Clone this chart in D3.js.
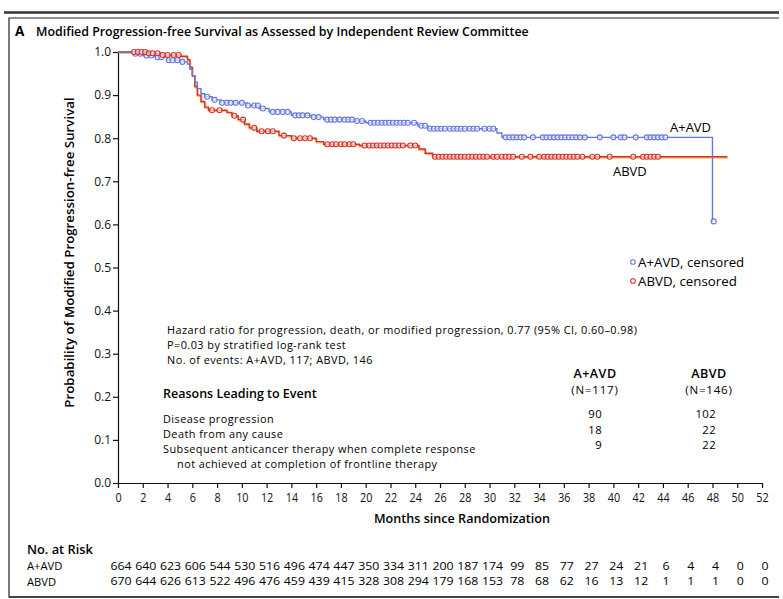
<!DOCTYPE html>
<html>
<head>
<meta charset="utf-8">
<script src="https://cdn.jsdelivr.net/npm/d3@7"></script>
<style>
  body { margin: 0; background: #fff; }
  svg { display: block; font-family: "Open Sans", sans-serif; }
</style>
</head>
<body>
<svg id="chart" width="783" height="599"></svg>
<script>
// tick labels
const xTicks = [0, 2, 4, 6, 8, 10, 12, 14, 16, 18, 20, 22, 24, 26, 28, 30, 32, 34, 36, 38, 40, 42, 44, 46, 48, 50, 52];
const yTicks = [0, 0.1, 0.2, 0.3, 0.4, 0.5, 0.6, 0.7, 0.8, 0.9, 1.0];

// Kaplan-Meier steps [month, probability]
const aavdSteps = [
  [0, 1.0], [1.2, 0.996], [2.0, 0.992], [3.0, 0.988], [4.0, 0.981], [5.0, 0.977],
  [5.6, 0.972], [5.8, 0.96], [6.0, 0.945], [6.2, 0.93], [6.4, 0.915], [6.7, 0.903],
  [7.0, 0.896], [7.6, 0.889], [8.3, 0.882], [10.4, 0.876], [11.4, 0.869], [12.2, 0.861],
  [14.0, 0.853], [15.6, 0.849], [16.6, 0.843], [19.0, 0.840], [20.0, 0.836],
  [24.2, 0.829], [25.0, 0.822], [30.6, 0.812], [31.0, 0.802], [48.0, 0.607]
];
const abvdSteps = [
  [0, 1.0], [2.5, 0.997], [3.5, 0.993], [5.0, 0.99], [5.6, 0.982], [5.8, 0.965],
  [6.0, 0.945], [6.2, 0.92], [6.4, 0.90], [6.7, 0.885], [7.0, 0.872], [7.3, 0.865],
  [8.8, 0.86], [9.2, 0.852], [9.7, 0.843], [10.2, 0.833], [10.6, 0.824], [11.2, 0.816],
  [13.0, 0.806], [14.0, 0.800], [16.0, 0.792], [16.6, 0.786], [19.5, 0.783],
  [24.3, 0.775], [24.8, 0.765], [25.4, 0.757]
];
const aavdEnd = 48.1;
const abvdEnd = 49.2;

// censoring times (months)
const aavdCensor = [
  1.4, 1.8, 2.3, 2.7, 3.2, 3.5, 4.1, 4.4, 4.8, 5.2,
  7.2, 7.8, 8.4, 8.8, 9.1, 9.5, 10.0, 10.5, 11.0, 11.3, 11.7, 12.5, 12.9, 13.3, 13.7,
  14.3, 14.6, 14.9, 15.3, 15.8, 16.2, 16.9, 17.2, 17.5, 17.9, 18.3, 18.6, 18.9, 19.3,
  19.7, 20.4, 20.7, 21.0, 21.3, 21.6, 21.9, 22.2, 22.5, 22.8, 23.1, 23.4, 23.9, 24.5,
  24.8, 25.2, 25.5, 25.8, 26.1, 26.4, 26.8, 27.1, 27.4, 27.7, 28.0, 28.4, 28.7, 29.0,
  29.6, 30.0, 30.3, 31.3, 31.6, 31.9, 32.2, 32.5, 32.8, 33.5, 34.3, 34.6, 34.9, 35.2,
  35.5, 35.8, 36.1, 36.4, 36.7, 37.0, 37.3, 37.7, 38.9, 40.0, 40.6, 40.9, 41.8, 42.7,
  43.0, 43.3, 43.6, 43.9, 44.2, 48.1
];
const abvdCensor = [
  1.3, 1.6, 1.9, 2.2, 2.5, 2.8, 3.2, 3.6, 4.0, 4.5, 4.9,
  7.6, 8.2, 9.4, 10.1, 11.0, 11.6, 12.1, 12.5, 13.4, 14.2, 14.7, 15.1, 15.5, 16.9,
  17.3, 17.6, 18.0, 18.3, 18.7, 19.0, 19.9, 20.3, 20.6, 20.9, 21.2, 21.5, 21.8, 22.1,
  22.4, 22.7, 23.0, 23.6, 24.0, 25.6, 25.9, 26.2, 26.5, 26.8, 27.1, 27.4, 27.7, 28.0,
  28.3, 28.6, 28.9, 29.2, 29.5, 29.8, 30.3, 30.6, 31.0, 31.3, 31.6, 31.9, 32.6, 33.3,
  34.0, 34.4, 34.7, 35.0, 35.3, 35.6, 35.9, 36.2, 36.5, 36.8, 37.1, 37.5, 38.3, 38.7,
  39.7, 41.6, 42.4, 42.7, 43.0, 43.3, 43.6
];

// number at risk, every 2 months
const atRiskAAVD = [664, 640, 623, 606, 544, 530, 516, 496, 474, 447, 350, 334, 311, 200, 187, 174, 99, 85, 77, 27, 24, 21, 6, 4, 4, 0, 0];
const atRiskABVD = [670, 644, 626, 613, 522, 496, 476, 459, 439, 415, 328, 308, 294, 179, 168, 153, 78, 68, 62, 16, 13, 12, 1, 1, 1, 0, 0];

// reasons table
const reasonLabels = ["Disease progression", "Death from any cause", "Subsequent anticancer therapy when complete response"];
const reasonsAAVD = [90, 18, 9];
const reasonsABVD = [102, 22, 22];

const blue = "#6577dc";
const red = "#d5302c";

const svg = d3.select("#chart");

// page frame
svg.append("line").attr("x1", 4).attr("x2", 779).attr("y1", 12.5).attr("y2", 12.5)
  .attr("stroke", "#333").attr("stroke-width", 2.5);
svg.append("path").attr("d", "M779,18H9V597H779")
  .attr("fill", "none").attr("stroke", "#222").attr("stroke-width", 1.2);
svg.append("line").attr("x1", 9).attr("x2", 779).attr("y1", 597).attr("y2", 597)
  .attr("stroke", "#444").attr("stroke-width", 2);

// title
svg.append("text").attr("x", 15).attr("y", 36)
  .attr("font-size", 13.5).attr("font-weight", 700).text("A");
svg.append("text").attr("x", 36).attr("y", 36)
  .attr("font-size", 12.4).attr("font-weight", 600)
  .text("Modified Progression-free Survival as Assessed by Independent Review Committee");

const x = d3.scaleLinear().domain([0, 52]).range([118, 762]);
const y = d3.scaleLinear().domain([0, 1]).range([483, 52]);

// axes
const yAxis = svg.append("g").attr("transform", `translate(${x(0)},0)`)
  .call(d3.axisLeft(y).tickValues(yTicks).tickFormat(d3.format(".1f"))
    .tickSize(5).tickSizeOuter(0).tickPadding(2));
yAxis.selectAll("text").attr("font-size", 12).attr("fill", "#111")
  .attr("font-family", "Open Sans, sans-serif");

const xAxis = svg.append("g").attr("transform", `translate(0,${y(0)})`)
  .call(d3.axisBottom(x).tickValues(xTicks).tickSize(5).tickSizeOuter(0).tickPadding(4));
xAxis.selectAll("text").attr("font-size", 13.5).attr("fill", "#111")
  .attr("font-family", "Open Sans, sans-serif")
  .attr("transform", "scale(0.8,1)");

svg.selectAll(".domain, .tick line").attr("stroke", "#111").attr("stroke-width", 1.2);

// axis titles
svg.append("text")
  .attr("transform", `translate(74,${y(0.5) - 15}) rotate(-90)`)
  .attr("text-anchor", "middle").attr("font-size", 13.3).attr("font-weight", 600)
  .text("Probability of Modified Progression-free Survival");
svg.append("text").attr("x", 462).attr("y", 523)
  .attr("text-anchor", "middle").attr("font-size", 12.6).attr("font-weight", 600)
  .text("Months since Randomization");

// survival curves
function stepPoints(steps, end) {
  return steps.concat([[end, steps[steps.length - 1][1]]]);
}
function survAt(steps, t) {
  let s = steps[0][1];
  steps.forEach(d => { if (d[0] <= t) s = d[1]; });
  return s;
}
const line = d3.line().x(d => x(d[0])).y(d => y(d[1])).curve(d3.curveStepAfter);

// ABVD (print shows a yellow fringe under the red line)
svg.append("path").datum(stepPoints(abvdSteps, abvdEnd))
  .attr("d", line).attr("fill", "none")
  .attr("stroke", "#f1b347").attr("stroke-width", 1.8).attr("opacity", 0.8)
  .attr("transform", "translate(0.6,1)");
svg.append("path").datum(stepPoints(abvdSteps, abvdEnd))
  .attr("d", line).attr("fill", "none").attr("stroke", red).attr("stroke-width", 1.4);

svg.append("path").datum(stepPoints(aavdSteps, aavdEnd))
  .attr("d", line).attr("fill", "none").attr("stroke", blue).attr("stroke-width", 1.4);

svg.append("g").selectAll("circle").data(aavdCensor).join("circle")
  .attr("cx", d => x(d)).attr("cy", d => y(survAt(aavdSteps, d)))
  .attr("r", 2.5).attr("fill", "#fff").attr("fill-opacity", 0.6)
  .attr("stroke", blue).attr("stroke-width", 1.1);

svg.append("g").selectAll("circle").data(abvdCensor).join("circle")
  .attr("cx", d => x(d)).attr("cy", d => y(survAt(abvdSteps, d)))
  .attr("r", 2.5).attr("fill", "#fff").attr("fill-opacity", 0.6)
  .attr("stroke", red).attr("stroke-width", 1.1);

// curve labels
svg.append("text").attr("x", 670).attr("y", 132).attr("font-size", 13).text("A+AVD");
svg.append("text").attr("x", 613).attr("y", 176).attr("font-size", 13).text("ABVD");

// legend
const legend = [
  { label: "A+AVD, censored", color: blue },
  { label: "ABVD, censored", color: red }
];
const lg = svg.append("g").selectAll("g").data(legend).join("g")
  .attr("transform", (d, i) => `translate(633,${262 + i * 19})`);
lg.append("circle").attr("r", 2.3).attr("fill", "#fff")
  .attr("stroke", d => d.color).attr("stroke-width", 1.1);
lg.append("text").attr("x", 5).attr("y", 4.5).attr("font-size", 13.3).text(d => d.label);

// statistics text
const stats = [
  "Hazard ratio for progression, death, or modified progression, 0.77 (95% CI, 0.60\u20130.98)",
  "P=0.03 by stratified log-rank test",
  "No. of events: A+AVD, 117; ABVD, 146"
];
svg.append("g").selectAll("text").data(stats).join("text")
  .attr("x", 167).attr("y", (d, i) => 334 + i * 15)
  .attr("font-size", 10.9).attr("letter-spacing", 0.45).text(d => d);

svg.append("text").attr("x", 163).attr("y", 398)
  .attr("font-size", 12.5).attr("font-weight", 600).text("Reasons Leading to Event");

svg.append("g").selectAll("text").data(reasonLabels).join("text")
  .attr("x", 163).attr("y", (d, i) => 423 + i * 15)
  .attr("font-size", 10.9).attr("letter-spacing", 0.45).text(d => d);
svg.append("text").attr("x", 177).attr("y", 468)
  .attr("font-size", 10.9).attr("letter-spacing", 0.45)
  .text("not achieved at completion of frontline therapy");

// column headers
[["A+AVD", "(N=117)", 595], ["ABVD", "(N=146)", 709]].forEach(([g, n, cx]) => {
  svg.append("text").attr("x", cx).attr("y", 378).attr("text-anchor", "middle")
    .attr("font-size", 12.5).attr("font-weight", 600).attr("letter-spacing", 0.5).text(g);
  svg.append("text").attr("x", cx).attr("y", 394).attr("text-anchor", "middle")
    .attr("font-size", 11.5).attr("letter-spacing", 0.8).text(n);
});
svg.append("g").selectAll("text").data(reasonsAAVD).join("text")
  .attr("x", 602).attr("y", (d, i) => 418 + i * 15.5).attr("text-anchor", "end")
  .attr("font-size", 11.3).attr("letter-spacing", 0.4).text(d => d);
svg.append("g").selectAll("text").data(reasonsABVD).join("text")
  .attr("x", 716).attr("y", (d, i) => 418 + i * 15.5).attr("text-anchor", "end")
  .attr("font-size", 11.3).attr("letter-spacing", 0.4).text(d => d);

// number at risk
svg.append("text").attr("x", 27).attr("y", 554)
  .attr("font-size", 12.8).attr("font-weight", 600).text("No. at Risk");
svg.append("text").attr("x", 27).attr("y", 570).attr("font-size", 11.2).text("A+AVD");
svg.append("text").attr("x", 27).attr("y", 585.5).attr("font-size", 11.2).text("ABVD");

[[atRiskAAVD, 570], [atRiskABVD, 585.5]].forEach(([vals, yy]) => {
  svg.append("g").selectAll("text").data(vals).join("text")
    .attr("x", (d, i) => x(xTicks[i]) + 3).attr("y", yy)
    .attr("text-anchor", "middle").attr("font-size", 11.2)
    .attr("transform", (d, i) => `translate(${(x(xTicks[i]) + 3) * -0.1},0) scale(1.1,1)`)
    .text(d => d);
});
</script>
</body>
</html>
